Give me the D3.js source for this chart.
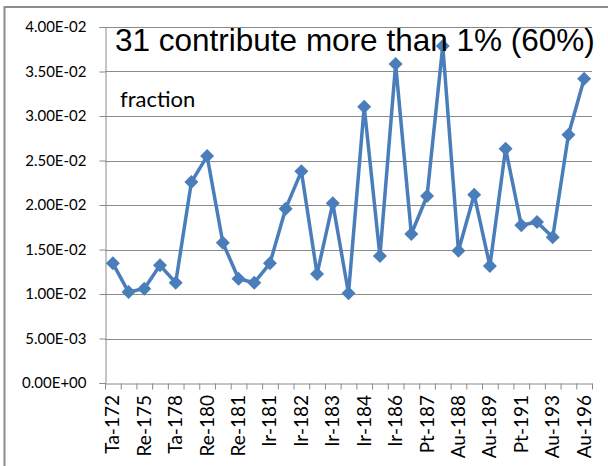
<!DOCTYPE html>
<html lang="en">
  <head>
    <meta charset="utf-8" />
    <title>31 contribute more than 1%</title>
    <style>
      body {
        margin: 0;
        background: #fff;
      }
      .tick text {
        font-family: Lato, sans-serif;
        fill: #000;
      }
    </style>
  </head>
  <body>
    <div id="chart"></div>

    <script src="https://cdnjs.cloudflare.com/ajax/libs/d3/7.4.4/d3.min.js"></script>
    <script type="text/javascript">
      // fraction per isotope, 31 points
      var fractions = [
        0.01345, 0.01022, 0.0106, 0.01322, 0.01127, 0.02258, 0.0255, 0.01577, 0.01172, 0.01127, 0.01345,
        0.01959, 0.02378, 0.01225, 0.02019, 0.01008, 0.03105, 0.01427, 0.03584, 0.01674, 0.02101, 0.03787,
        0.01487, 0.02116, 0.01315, 0.02633, 0.01772, 0.01809, 0.01637, 0.0279, 0.03419
      ]

      // only every other category is labelled on the axis
      var xLabels = [
        'Ta-172', 'Re-175', 'Ta-178', 'Re-180', 'Re-181', 'Ir-181', 'Ir-182', 'Ir-183',
        'Ir-184', 'Ir-186', 'Pt-187', 'Au-188', 'Au-189', 'Pt-191', 'Au-193', 'Au-196'
      ]

      var yTicks = [0, 0.005, 0.01, 0.015, 0.02, 0.025, 0.03, 0.035, 0.04]
      var yTickLabels = [
        '0.00E+00', '5.00E-03', '1.00E-02', '1.50E-02', '2.00E-02',
        '2.50E-02', '3.00E-02', '3.50E-02', '4.00E-02'
      ]

      var W = 608,
        H = 466
      var plot = { left: 105, right: 592, top: 27, bottom: 383 }

      var svg = d3.select('#chart').append('svg').attr('width', W).attr('height', H)

      // outer chart border (only top and left visible)
      svg
        .append('rect')
        .attr('x', 4.5)
        .attr('y', 7)
        .attr('width', W + 10)
        .attr('height', H + 10)
        .attr('fill', 'none')
        .attr('stroke', '#8c8c8c')
        .attr('stroke-width', 2)

      var x = d3.scaleBand().domain(d3.range(fractions.length)).range([plot.left, plot.right]).padding(0)
      var xEdge = d3.scaleLinear().domain([0, fractions.length]).range([plot.left, plot.right])
      var y = d3.scaleLinear().domain([0, 0.04]).range([plot.bottom, plot.top])

      // Gridlines
      svg
        .append('g')
        .selectAll('line')
        .data(yTicks.slice(1))
        .enter()
        .append('line')
        .attr('x1', plot.left)
        .attr('x2', plot.right)
        .attr('y1', (d) => Math.round(y(d)) + 0.5)
        .attr('y2', (d) => Math.round(y(d)) + 0.5)
        .attr('stroke', '#8a8a8a')
        .attr('stroke-width', 1)

      // Y axis
      var yAxis = svg
        .append('g')
        .attr('transform', 'translate(' + (plot.left + 0.5) + ',0)')
        .call(
          d3
            .axisLeft(y)
            .tickValues(yTicks)
            .tickSize(6)
            .tickPadding(13)
            .tickFormat((d, i) => yTickLabels[i])
        )
      yAxis.selectAll('.domain, line').attr('stroke', '#8a8a8a')
      yAxis.selectAll('text').style('font-size', '15px')

      // X axis with ticks at category edges
      var xAxis = svg
        .append('g')
        .attr('transform', 'translate(0,' + (plot.bottom + 0.5) + ')')
        .call(
          d3
            .axisBottom(xEdge)
            .tickValues(d3.range(fractions.length + 1))
            .tickSize(6)
            .tickSizeOuter(0)
            .tickFormat('')
        )
      xAxis.selectAll('.domain, line').attr('stroke', '#8a8a8a')

      svg
        .append('g')
        .selectAll('text')
        .data(xLabels)
        .enter()
        .append('text')
        .attr('transform', (d, i) => {
          var cx = x(i * 2) + x.bandwidth() / 2
          return 'translate(' + (cx + 6.5) + ',' + (plot.bottom + 12) + ') rotate(-90)'
        })
        .attr('text-anchor', 'end')
        .style('font-family', 'Lato, sans-serif')
        .style('font-size', '19px')
        .attr('fill', '#000')
        .text((d) => d)

      // Line + markers
      var line = d3
        .line()
        .x((d, i) => x(i) + x.bandwidth() / 2)
        .y((d) => y(d))

      svg
        .append('path')
        .datum(fractions)
        .attr('d', line)
        .attr('fill', 'none')
        .attr('stroke', '#4a7ebb')
        .attr('stroke-width', 3.5)
        .attr('stroke-linejoin', 'round')

      svg
        .append('g')
        .selectAll('path')
        .data(fractions)
        .enter()
        .append('path')
        .attr('d', d3.symbol().type(d3.symbolDiamond2).size(125))
        .attr('transform', (d, i) => 'translate(' + (x(i) + x.bandwidth() / 2) + ',' + y(d) + ')')
        .attr('fill', '#4a7ebb')

      // Titles
      svg
        .append('text')
        .attr('x', 115)
        .attr('y', 51)
        .style('font-family', '"Liberation Sans", Arial, sans-serif')
        .style('font-size', '31.5px')
        .attr('fill', '#000')
        .text('31 contribute more than 1% (60%)')

      svg
        .append('text')
        .attr('x', 120)
        .attr('y', 107)
        .style('font-family', 'Lato, sans-serif')
        .style('font-size', '22px')
        .attr('fill', '#000')
        .text('fraction')
    </script>
  </body>
</html>
